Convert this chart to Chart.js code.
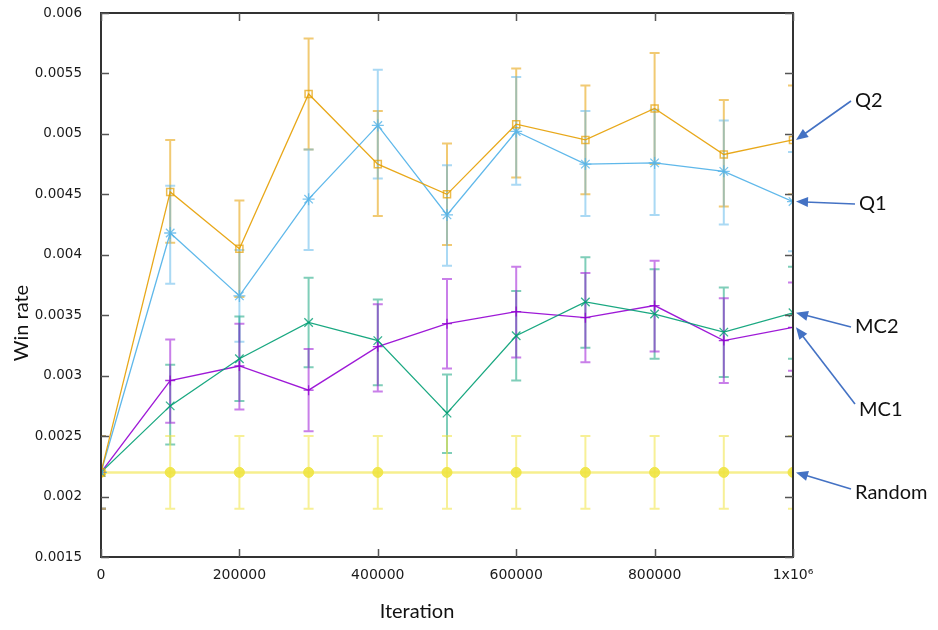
<!DOCTYPE html>
<html>
<head>
<meta charset="utf-8">
<script src="https://cdn.jsdelivr.net/npm/chart.js@4"></script>
<style>
  body { margin: 0; background: #fff; }
</style>
</head>
<body>
<canvas id="chart" width="938" height="630"></canvas>
<script>
// iterations (x)
const iterations = [0, 100000, 200000, 300000, 400000, 500000, 600000, 700000, 800000, 900000, 1000000];

// win rates + error bar ends
const q2   = [0.0022, 0.00452, 0.00405, 0.00533, 0.00475, 0.0045, 0.00508, 0.00495, 0.00521, 0.00483, 0.00495];
const q2Hi = [0.0025, 0.00495, 0.00445, 0.00579, 0.00519, 0.00492, 0.00554, 0.0054, 0.00567, 0.00528, 0.0054];
const q2Lo = [0.0019, 0.0041, 0.00365, 0.00487, 0.00432, 0.00408, 0.00464, 0.0045, 0.00475, 0.0044, 0.0045];

const q1   = [0.0022, 0.00418, 0.00366, 0.00446, 0.00507, 0.00433, 0.00502, 0.00475, 0.00476, 0.00469, 0.00444];
const q1Hi = [0.0025, 0.00457, 0.00404, 0.00487, 0.00553, 0.00474, 0.00547, 0.00519, 0.0052, 0.00511, 0.00485];
const q1Lo = [0.0019, 0.00376, 0.00328, 0.00404, 0.00463, 0.00391, 0.00458, 0.00432, 0.00433, 0.00425, 0.00403];

const mc2   = [0.0022, 0.00275, 0.00314, 0.00344, 0.00329, 0.00269, 0.00333, 0.00361, 0.00351, 0.00336, 0.00352];
const mc2Hi = [0.0025, 0.00309, 0.00349, 0.00381, 0.00363, 0.00301, 0.0037, 0.00398, 0.00388, 0.00373, 0.0039];
const mc2Lo = [0.0019, 0.00243, 0.00279, 0.00307, 0.00292, 0.00236, 0.00296, 0.00323, 0.00314, 0.00299, 0.00314];

const mc1   = [0.0022, 0.00296, 0.00308, 0.00288, 0.00324, 0.00343, 0.00353, 0.00348, 0.00358, 0.00329, 0.0034];
const mc1Hi = [0.0025, 0.0033, 0.00343, 0.00322, 0.00359, 0.0038, 0.0039, 0.00385, 0.00395, 0.00364, 0.00377];
const mc1Lo = [0.0019, 0.00261, 0.00272, 0.00254, 0.00287, 0.00306, 0.00315, 0.00311, 0.0032, 0.00294, 0.00304];

const rnd   = [0.0022, 0.0022, 0.0022, 0.0022, 0.0022, 0.0022, 0.0022, 0.0022, 0.0022, 0.0022, 0.0022];
const rndHi = [0.0025, 0.0025, 0.0025, 0.0025, 0.0025, 0.0025, 0.0025, 0.0025, 0.0025, 0.0025, 0.0025];
const rndLo = [0.0019, 0.0019, 0.0019, 0.0019, 0.0019, 0.0019, 0.0019, 0.0019, 0.0019, 0.0019, 0.0019];

// labels on the right, arrow points to last point of the series
const seriesLabels = ['Q2', 'Q1', 'MC2', 'MC1', 'Random'];

function pts(arr) {
    return arr.map((v, i) => ({x: iterations[i], y: v}));
}

// error bars drawn under the lines
const errorBars = {
    id: 'errorBars',
    beforeDatasetsDraw(chart) {
        const {ctx, chartArea: {top, bottom, left, right}, scales: {y}} = chart;
        ctx.save();
        ctx.beginPath();
        ctx.rect(left, top, right - left, bottom - top);
        ctx.clip();
        chart.data.datasets.forEach((ds, i) => {
            const meta = chart.getDatasetMeta(i);
            ctx.strokeStyle = ds.errColor;
            ctx.lineWidth = 2;
            meta.data.forEach((p, j) => {
                const yh = y.getPixelForValue(ds.errHi[j]);
                const yl = y.getPixelForValue(ds.errLo[j]);
                ctx.beginPath();
                ctx.moveTo(p.x, yh);
                ctx.lineTo(p.x, yl);
                ctx.moveTo(p.x - 5, yh);
                ctx.lineTo(p.x + 5, yh);
                ctx.moveTo(p.x - 5, yl);
                ctx.lineTo(p.x + 5, yl);
                ctx.stroke();
            });
        });
        ctx.restore();
    }
};

// gnuplot style frame with inward ticks, axis titles and arrow labels
const frame = {
    id: 'frame',
    afterDatasetsDraw(chart) {
        const {ctx, chartArea: {top, bottom, left, right}, scales: {x, y}} = chart;
        ctx.save();
        ctx.strokeStyle = '#333';
        ctx.lineWidth = 2;
        ctx.strokeRect(left, top, right - left, bottom - top);
        ctx.lineWidth = 1.5;
        ctx.strokeStyle = '#555';
        ctx.beginPath();
        y.ticks.forEach(t => {
            const py = Math.round(y.getPixelForValue(t.value)) + 0.5;
            ctx.moveTo(left, py); ctx.lineTo(left + 8, py);
            ctx.moveTo(right, py); ctx.lineTo(right - 8, py);
        });
        x.ticks.forEach(t => {
            const px = Math.round(x.getPixelForValue(t.value)) + 0.5;
            ctx.moveTo(px, bottom); ctx.lineTo(px, bottom - 8);
            ctx.moveTo(px, top); ctx.lineTo(px, top + 8);
        });
        ctx.stroke();

        // axis titles
        ctx.fillStyle = '#111';
        ctx.font = '20px Lato';
        ctx.textAlign = 'center';
        ctx.textBaseline = 'middle';
        ctx.fillText('Iteration', 417, 612);
        ctx.save();
        ctx.translate(22, 323);
        ctx.rotate(-Math.PI / 2);
        ctx.fillText('Win rate', 0, 0);
        ctx.restore();

        // arrow labels
        const textPos = [[855, 101], [859, 204], [855, 327], [859, 410], [855, 493]];
        const startPos = [[851, 101], [855, 204], [851, 327], [855, 404], [851, 489]];
        ctx.textAlign = 'left';
        chart.data.datasets.forEach((ds, i) => {
            const last = ds.data[ds.data.length - 1];
            const tx = x.getPixelForValue(last.x) + 3;
            const ty = y.getPixelForValue(last.y);
            const [sx, sy] = startPos[i];
            const ang = Math.atan2(ty - sy, tx - sx);
            ctx.strokeStyle = '#4472c4';
            ctx.fillStyle = '#4472c4';
            ctx.lineWidth = 1.6;
            ctx.beginPath();
            ctx.moveTo(sx, sy);
            ctx.lineTo(tx - 9 * Math.cos(ang), ty - 9 * Math.sin(ang));
            ctx.stroke();
            ctx.beginPath();
            ctx.moveTo(tx, ty);
            ctx.lineTo(tx - 12 * Math.cos(ang) + 5 * Math.sin(ang), ty - 12 * Math.sin(ang) - 5 * Math.cos(ang));
            ctx.lineTo(tx - 12 * Math.cos(ang) - 5 * Math.sin(ang), ty - 12 * Math.sin(ang) + 5 * Math.cos(ang));
            ctx.closePath();
            ctx.fill();
            ctx.fillStyle = '#111';
            ctx.fillText(ds.label, textPos[i][0], textPos[i][1]);
        });
        ctx.restore();
    }
};

const data = {
    datasets: [{
        label: seriesLabels[0],
        data: pts(q2), errHi: q2Hi, errLo: q2Lo,
        borderColor: 'rgba(230,159,0,0.9)',
        errColor: 'rgba(230,159,0,0.55)',
        borderWidth: 1.3,
        pointStyle: 'rect', pointRadius: 5,
        pointBorderColor: 'rgba(230,159,0,0.7)', pointBackgroundColor: 'rgba(0,0,0,0)', pointBorderWidth: 1.5,
    }, {
        label: seriesLabels[1],
        data: pts(q1), errHi: q1Hi, errLo: q1Lo,
        borderColor: 'rgba(86,180,233,0.95)',
        errColor: 'rgba(86,180,233,0.5)',
        borderWidth: 1.3,
        pointStyle: 'star', pointRadius: 6,
        pointBorderColor: 'rgba(86,180,233,0.8)', pointBorderWidth: 1.3,
    }, {
        label: seriesLabels[2],
        data: pts(mc2), errHi: mc2Hi, errLo: mc2Lo,
        borderColor: 'rgba(0,158,115,0.9)',
        errColor: 'rgba(0,158,115,0.5)',
        borderWidth: 1.3,
        pointStyle: 'crossRot', pointRadius: 6,
        pointBorderColor: 'rgba(0,158,115,0.8)', pointBorderWidth: 1.3,
    }, {
        label: seriesLabels[3],
        data: pts(mc1), errHi: mc1Hi, errLo: mc1Lo,
        borderColor: 'rgba(148,0,211,0.9)',
        errColor: 'rgba(148,0,211,0.5)',
        borderWidth: 1.3,
        pointStyle: 'cross', pointRadius: 5,
        pointBorderColor: 'rgba(148,0,211,0.8)', pointBorderWidth: 1.3,
    }, {
        label: seriesLabels[4],
        data: pts(rnd), errHi: rndHi, errLo: rndLo,
        borderColor: 'rgba(240,228,66,0.6)',
        errColor: 'rgba(240,228,66,0.55)',
        borderWidth: 2.5,
        pointStyle: 'circle', pointRadius: 5,
        pointBorderColor: 'rgba(240,228,66,0.9)', pointBackgroundColor: 'rgba(240,228,66,0.9)', pointBorderWidth: 1,
    }]
};

const tickFont = {family: 'DejaVu Sans', size: 13.5};

const config = {
    type: 'line',
    data,
    options: {
        responsive: false,
        animation: false,
        layout: {padding: {top: 13, right: 145, bottom: 0, left: 0}},
        elements: {line: {tension: 0}},
        plugins: {legend: {display: false}, tooltip: {enabled: false}},
        scales: {
            x: {
                type: 'linear', min: 0, max: 1000000,
                grid: {display: false, drawTicks: false},
                border: {display: false},
                afterFit(s) { s.height = 73; s.paddingLeft = 0; s.paddingRight = 0; },
                ticks: {
                    stepSize: 200000, autoSkip: false, maxRotation: 0, padding: 10,
                    color: '#1a1a1a', font: {family: 'DejaVu Sans', size: 14},
                    callback: v => v === 1000000 ? '1x10⁶' : String(v)
                }
            },
            y: {
                min: 0.0015, max: 0.006,
                grid: {display: false, drawTicks: false},
                border: {display: false},
                afterFit(s) { s.width = 101; s.paddingTop = 0; s.paddingBottom = 0; },
                ticks: {
                    stepSize: 0.0005, padding: 19, color: '#1a1a1a', font: tickFont,
                    callback: v => String(parseFloat(v.toFixed(4)))
                }
            }
        }
    },
    plugins: [errorBars, frame]
};

var chart = document.getElementById('chart');
var myChart = new Chart(chart, config);
</script>
</body>
</html>
